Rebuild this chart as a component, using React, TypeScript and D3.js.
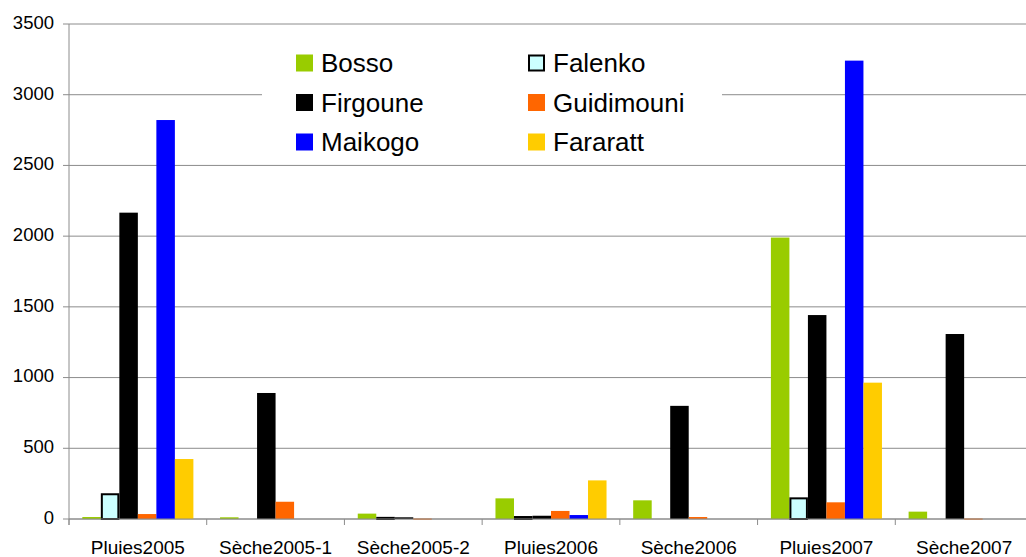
import React from "react";
import * as d3 from "d3";

const categories = [
  "Pluies2005",
  "Sèche2005-1",
  "Sèche2005-2",
  "Pluies2006",
  "Sèche2006",
  "Pluies2007",
  "Sèche2007",
];
const seriesNames = ["Bosso", "Falenko", "Firgoune", "Guidimouni", "Maikogo", "Fararatt"];
const bosso = [14, 12, 38, 146, 132, 1990, 52];
const falenko = [175, 0, 8, 14, 0, 146, 0];
const firgoune = [2166, 891, 12, 23, 800, 1442, 1308];
const guidimouni = [35, 122, 3, 57, 14, 118, 3];
const maikogo = [2821, 0, 0, 28, 0, 3241, 0];
const fararatt = [424, 0, 0, 273, 0, 964, 0];
const yTickValues = [0, 500, 1000, 1500, 2000, 2500, 3000, 3500];

const seriesValues = [bosso, falenko, firgoune, guidimouni, maikogo, fararatt];
const colors = ["#99cc00", "#ccffff", "#000000", "#ff6600", "#0000ff", "#ffcc00"];

export default function App() {
  const width = 1026,
    height = 557;
  const left = 69,
    right = 1033,
    top = 24,
    bottom = 519;

  const xScale = d3.scaleBand().domain(categories).range([left, right]).paddingInner(0).paddingOuter(0);
  const inner = d3
    .scaleBand()
    .domain(seriesNames)
    .range([0, xScale.bandwidth()])
    .paddingOuter(0.72)
    .paddingInner(0);
  const yScale = d3.scaleLinear().domain([0, 3500]).range([bottom, top]);

  const grid = "#8c8c8c";
  const font = "Liberation Sans, Arial, sans-serif";

  return (
    <svg
      width={width}
      height={height}
      style={{ position: "absolute", left: 0, top: 0, background: "#fff" }}
    >
      {/* grid */}
      {yTickValues.map((t) => (
        <g key={t}>
          <line x1={left - 6} x2={width} y1={yScale(t)} y2={yScale(t)} stroke={grid} strokeWidth={1} />
          <text
            x={54}
            y={yScale(t)}
            fontSize={18.5}
            fontFamily={font}
            textAnchor="end"
            dominantBaseline="middle"
          >
            {t}
          </text>
        </g>
      ))}
      {/* y axis */}
      <line x1={left} x2={left} y1={top} y2={bottom + 6} stroke={grid} />
      {/* x ticks */}
      {categories.map((c, i) => (
        <line
          key={c}
          x1={xScale(c)! + (i === 0 ? 0 : 0)}
          x2={xScale(c)!}
          y1={bottom}
          y2={bottom + 6}
          stroke={grid}
        />
      ))}
      <line x1={right} x2={right} y1={bottom} y2={bottom + 6} stroke={grid} />

      {/* bars */}
      {categories.map((c, ci) => (
        <g key={c} transform={`translate(${xScale(c)},0)`}>
          {seriesNames.map((s, si) => {
            const v = seriesValues[si][ci];
            if (v <= 0) return null;
            const x = inner(s)!;
            const w = inner.bandwidth();
            const y = yScale(v);
            const isFalenko = s === "Falenko";
            return (
              <rect
                key={s}
                x={isFalenko ? x + 1 : x}
                y={y}
                width={isFalenko ? w - 2 : w}
                height={Math.max(bottom - y, isFalenko ? 0 : 1)}
                fill={colors[si]}
                stroke={isFalenko ? "#000" : "none"}
                strokeWidth={isFalenko ? 2 : 0}
              />
            );
          })}
        </g>
      ))}
      <line x1={left} x2={width} y1={bottom} y2={bottom} stroke={grid} />

      {/* category labels */}
      {categories.map((c) => (
        <text
          key={c}
          x={xScale(c)! + xScale.bandwidth() / 2}
          y={554}
          fontSize={19}
          fontFamily={font}
          textAnchor="middle"
        >
          {c}
        </text>
      ))}

      {/* legend */}
      <rect x={262} y={36} width={460} height={126} fill="#fff" />
      {seriesNames.map((s, i) => {
        const col = i % 2;
        const row = Math.floor(i / 2);
        const sx = col === 0 ? 296 : 528;
        const cy = 63 + row * 39.5;
        const isFalenko = s === "Falenko";
        return (
          <g key={s}>
            <rect
              x={isFalenko ? sx + 1 : sx}
              y={cy - 8.5 + (isFalenko ? 1 : 0)}
              width={isFalenko ? 15 : 17}
              height={isFalenko ? 15 : 17}
              fill={colors[i]}
              stroke={isFalenko ? "#000" : "none"}
              strokeWidth={2}
            />
            <text
              x={sx + 25}
              y={cy}
              fontSize={26}
              fontFamily={font}
              dominantBaseline="central"
            >
              {s}
            </text>
          </g>
        );
      })}
    </svg>
  );
}
